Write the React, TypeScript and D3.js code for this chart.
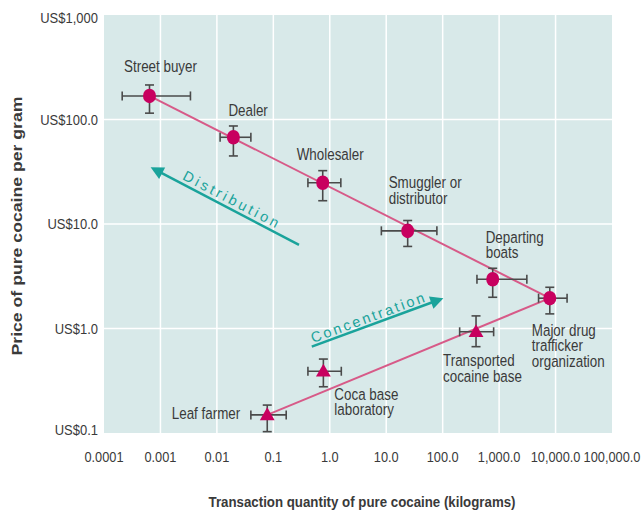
import React from "react";
import * as d3 from "d3";

// ---------- data ----------
const stages = [
  "Street buyer",
  "Dealer",
  "Wholesaler",
  "Smuggler or distributor",
  "Departing boats",
  "Major drug trafficker organization",
  "Transported cocaine base",
  "Coca base laboratory",
  "Leaf farmer",
];
const stageLines = [
  ["Street buyer"],
  ["Dealer"],
  ["Wholesaler"],
  ["Smuggler or", "distributor"],
  ["Departing", "boats"],
  ["Major drug", "trafficker", "organization"],
  ["Transported", "cocaine base"],
  ["Coca base", "laboratory"],
  ["Leaf farmer"],
];
const markerShape = ["circle", "circle", "circle", "circle", "circle", "circle", "triangle", "triangle", "triangle"];

// quantity of pure cocaine, kg
const quantity = [0.00064, 0.0196, 0.75, 24, 770, 7900, 390, 0.77, 0.078];
const quantityLow = [0.00021, 0.0114, 0.41, 8.2, 405, 5000, 200, 0.41, 0.04];
const quantityHigh = [0.0034, 0.04, 1.57, 79, 3100, 16000, 800, 1.6, 0.169];
// price of pure cocaine, US$ per gram
const price = [168, 67.6, 24.8, 8.6, 2.96, 1.95, 0.93, 0.39, 0.149];
const priceLow = [115, 44.8, 16.7, 6.1, 1.99, 1.38, 0.67, 0.277, 0.103];
const priceHigh = [214, 86.7, 32.4, 10.8, 3.77, 2.48, 1.32, 0.51, 0.185];

// trend lines (stage index from -> to)
const trendFrom = [0, 8];
const trendTo = [5, 5];

// axes
const xTickValues = [0.0001, 0.001, 0.01, 0.1, 1, 10, 100, 1000, 10000, 100000];
const xTickLabels = ["0.0001", "0.001", "0.01", "0.1", "1.0", "10.0", "100.0", "1,000.0", "10,000.0", "100,000.0"];
const yTickValues = [1000, 100, 10, 1, 0.1];
const yTickLabels = ["US$1,000", "US$100.0", "US$10.0", "US$1.0", "US$0.1"];

// annotation arrows (data space)
const arrowNames = ["Distribution", "Concentration"];
const arrowFromQ = [0.285, 0.48];
const arrowFromP = [6.3, 0.67];
const arrowToQ = [0.00067, 103];
const arrowToP = [34.9, 1.95];
const arrowTextQ = [0.0178, 4.66];
const arrowTextP = [17.3, 1.27];

// ---------- layout ----------
const W = 644;
const H = 512;
const labelDx = [11, -5, -26, -19, -7, -18, -33, 11, -27];
const labelDy = [-29, -27, -28, -48, -42, 32, 29, 23, -1];
const labelAnchor = ["middle", "start", "start", "start", "start", "start", "start", "start", "end"];
const arrowTextLen = [106, 120];

const SANS = "'Liberation Sans', Arial, sans-serif";
const TEXT = "#3a3a3a";
const PINK = "#c8005f";
const LINE = "#d75a88";
const TEAL = "#1aa39b";
const PANEL = "#d8e9e9";
const BAR = "#4a4a4a";
const SX = 0.84; // horizontal condensing for the narrow typeface look

type CondProps = {
  x: number;
  y: number;
  size: number;
  anchor?: string;
  baseline?: string;
  weight?: string;
  lines: string[];
  lh?: number;
};

function Cond({ x, y, size, anchor = "start", baseline, weight, lines, lh = 15.5 }: CondProps) {
  return (
    <text
      transform={`translate(${x},${y}) scale(${SX},1)`}
      x={0}
      y={0}
      textAnchor={anchor}
      dominantBaseline={baseline}
      fontFamily={SANS}
      fontWeight={weight}
      fontSize={size}
      fill={TEXT}
    >
      {lines.map((ln, j) => (
        <tspan key={j} x={0} dy={j === 0 ? 0 : lh}>
          {ln}
        </tspan>
      ))}
    </text>
  );
}

export default function App() {
  const x = d3.scaleLog().domain([1e-4, 1e5]).range([104, 612]);
  const y = d3.scaleLog().domain([0.1, 1000]).range([433, 15]);
  const [x0, x1] = x.range();
  const [y0, y1] = y.range();
  const tri = d3.symbol(d3.symbolTriangle, 95)();
  const cap = 4.5;

  return (
    <svg width={W} height={H} style={{ position: "absolute", left: 0, top: 0, background: "#fff" }}>
      {/* panel */}
      <rect x={x0} y={y1} width={x1 - x0} height={y0 - y1} fill={PANEL} />
      {xTickValues.slice(1, -1).map((v) => (
        <line key={"gx" + v} x1={x(v)} x2={x(v)} y1={y1} y2={y0} stroke="#fff" strokeWidth={1.5} />
      ))}
      {yTickValues.slice(1, -1).map((v) => (
        <line key={"gy" + v} x1={x0} x2={x1} y1={y(v)} y2={y(v)} stroke="#fff" strokeWidth={1.5} />
      ))}

      {/* tick labels */}
      {xTickValues.map((v, i) => (
        <Cond key={"xt" + i} x={x(v)} y={462} size={12.8 / SX} anchor="middle" lines={[xTickLabels[i]]} />
      ))}
      {yTickValues.map((v, i) => (
        <Cond
          key={"yt" + i}
          x={98}
          y={Math.min(Math.max(y(v), 18), 430)}
          size={13 / SX}
          anchor="end"
          baseline="central"
          lines={[yTickLabels[i]]}
        />
      ))}

      {/* axis titles */}
      <text
        x={0}
        y={0}
        transform={`translate(22,${(y0 + y1) / 2 + 2}) rotate(-90)`}
        textAnchor="middle"
        fontFamily={SANS}
        fontWeight="bold"
        fontSize={15.5}
        fill={TEXT}
        textLength={259}
        lengthAdjust="spacingAndGlyphs"
      >
        Price of pure cocaine per gram
      </text>
      <text
        x={362}
        y={507}
        textAnchor="middle"
        fontFamily={SANS}
        fontWeight="bold"
        fontSize={15.5}
        fill={TEXT}
        textLength={307}
        lengthAdjust="spacingAndGlyphs"
      >
        Transaction quantity of pure cocaine (kilograms)
      </text>

      {/* trend lines */}
      {trendFrom.map((a, i) => (
        <line
          key={"tr" + i}
          x1={x(quantity[a])}
          y1={y(price[a])}
          x2={x(quantity[trendTo[i]])}
          y2={y(price[trendTo[i]])}
          stroke={LINE}
          strokeWidth={2}
        />
      ))}

      {/* arrows */}
      {arrowNames.map((name, i) => {
        const ax1 = x(arrowFromQ[i]);
        const ay1 = y(arrowFromP[i]);
        const ax2 = x(arrowToQ[i]);
        const ay2 = y(arrowToP[i]);
        const dx = ax2 - ax1;
        const dy = ay2 - ay1;
        const len = Math.hypot(dx, dy);
        const ux = dx / len;
        const uy = dy / len;
        const hl = 13;
        const hw = 6.5;
        const bx = ax2 - ux * hl;
        const by = ay2 - uy * hl;
        const head = `M${ax2},${ay2}L${bx - uy * hw},${by + ux * hw}L${bx + uy * hw},${by - ux * hw}Z`;
        const ang = (Math.atan(dy / dx) * 180) / Math.PI;
        const tx = x(arrowTextQ[i]);
        const ty = y(arrowTextP[i]);
        return (
          <g key={"ar" + i}>
            <line x1={ax1} y1={ay1} x2={bx + ux * 2} y2={by + uy * 2} stroke={TEAL} strokeWidth={2.5} />
            <path d={head} fill={TEAL} />
            <text
              x={0}
              y={0}
              transform={`translate(${tx},${ty}) rotate(${ang})`}
              textAnchor="middle"
              dominantBaseline="central"
              fontFamily={SANS}
              fontSize={14.5}
              fill={TEAL}
              textLength={arrowTextLen[i]}
              lengthAdjust="spacing"
            >
              {name}
            </text>
          </g>
        );
      })}

      {/* error bars + markers */}
      {stages.map((s, i) => {
        const cx = x(quantity[i]);
        const cy = y(price[i]);
        const xl = x(quantityLow[i]);
        const xh = x(quantityHigh[i]);
        const yl = y(priceLow[i]);
        const yh = y(priceHigh[i]);
        return (
          <g key={"pt" + i}>
            <g stroke={BAR} strokeWidth={1.6}>
              <line x1={xl} x2={xh} y1={cy} y2={cy} />
              <line x1={xl} x2={xl} y1={cy - cap} y2={cy + cap} />
              <line x1={xh} x2={xh} y1={cy - cap} y2={cy + cap} />
              <line x1={cx} x2={cx} y1={yh} y2={yl} />
              <line x1={cx - cap} x2={cx + cap} y1={yh} y2={yh} />
              <line x1={cx - cap} x2={cx + cap} y1={yl} y2={yl} />
            </g>
            {markerShape[i] === "circle" ? (
              <ellipse cx={cx} cy={cy} rx={6.5} ry={7.3} fill={PINK} />
            ) : (
              <path d={tri!} transform={`translate(${cx},${cy + 1})`} fill={PINK} />
            )}
          </g>
        );
      })}

      {/* stage labels */}
      {stages.map((s, i) => {
        const cx = x(quantity[i]);
        const cy = y(price[i]);
        return (
          <Cond
            key={"lb" + i}
            x={cx + labelDx[i]}
            y={cy + labelDy[i]}
            size={13.4 / SX}
            anchor={labelAnchor[i]}
            baseline="central"
            lines={stageLines[i]}
          />
        );
      })}
    </svg>
  );
}
